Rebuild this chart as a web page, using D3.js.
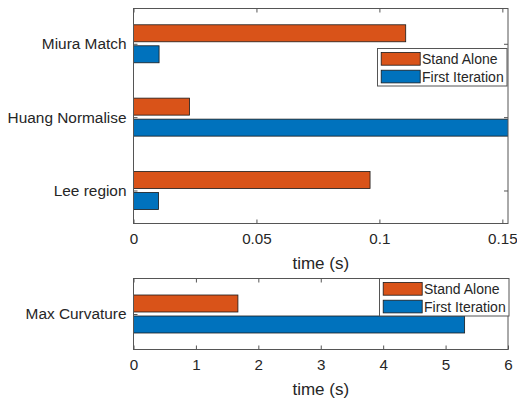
<!DOCTYPE html>
<html>
<head>
<meta charset="utf-8">
<script src="https://cdn.jsdelivr.net/npm/d3@7"></script>
<style>
  body { margin: 0; background: #fff; }
  svg text { font-family: "Liberation Sans", Arial, sans-serif; fill: #262626; }
</style>
</head>
<body>
<div id="chart"></div>
<script>
// data
var topCategories = ["Lee region", "Huang Normalise", "Miura Match"];
var topStandAlone = [0.0962, 0.0228, 0.1107];
var topFirstIter = [0.0102, 0.16, 0.0104];
var topTicks = [0, 0.05, 0.1, 0.15];
var topTickLabels = ["0", "0.05", "0.1", "0.15"];

var botCategories = ["Max Curvature"];
var botStandAlone = [1.673];
var botFirstIter = [5.305];
var botTicks = [0, 1, 2, 3, 4, 5, 6];
var botTickLabels = ["0", "1", "2", "3", "4", "5", "6"];

var seriesNames = ["Stand Alone", "First Iteration"];
var seriesColors = ["#D95319", "#0072BD"];

var W = 517, H = 400;
var axisColor = "#555";

var svg = d3.select("#chart").append("svg")
    .attr("width", W).attr("height", H);

function drawPanel(opt) {
    var g = svg.append("g");
    var x = d3.scaleLinear().domain(opt.xDomain).range([opt.left, opt.right]);
    var y = d3.scaleLinear().domain(opt.yDomain).range([opt.bottom, opt.top]);

    var clipId = "clip" + opt.id;
    svg.append("clipPath").attr("id", clipId)
        .append("rect")
        .attr("x", opt.left).attr("y", opt.top)
        .attr("width", opt.right - opt.left).attr("height", opt.bottom - opt.top);

    // bars: stand alone above, first iteration below the category tick
    var rows = opt.categories.map((c, i) => ({
        pos: i + 1, vals: [opt.standAlone[i], opt.firstIter[i]]
    }));
    var barH = 17, off = 10.5;
    var bars = g.append("g").attr("clip-path", "url(#" + clipId + ")");
    rows.forEach(r => {
        r.vals.forEach((v, s) => {
            var cy = y(r.pos) + (s === 0 ? -off : off);
            bars.append("rect")
                .attr("x", x(0))
                .attr("y", cy - barH / 2)
                .attr("width", x(v) - x(0))
                .attr("height", barH)
                .attr("fill", seriesColors[s])
                .attr("stroke", "#1a1a1a")
                .attr("stroke-width", 0.8);
        });
    });

    // axes, ticks pointing inwards on all four sides
    var tickLen = 4;
    var xb = g.append("g").attr("transform", "translate(0," + opt.bottom + ")")
        .call(d3.axisBottom(x).tickValues(opt.ticks)
            .tickFormat((d, i) => opt.tickLabels[i])
            .tickSizeInner(-tickLen).tickSizeOuter(0).tickPadding(10));
    var xt = g.append("g").attr("transform", "translate(0," + opt.top + ")")
        .call(d3.axisTop(x).tickValues(opt.ticks).tickFormat("")
            .tickSizeInner(-tickLen).tickSizeOuter(0));
    var yl = g.append("g").attr("transform", "translate(" + opt.left + ",0)")
        .call(d3.axisLeft(y).tickValues(rows.map(r => r.pos))
            .tickFormat((d, i) => opt.categories[i])
            .tickSizeInner(-tickLen).tickSizeOuter(0).tickPadding(7));
    var yr = g.append("g").attr("transform", "translate(" + opt.right + ",0)")
        .call(d3.axisRight(y).tickValues(rows.map(r => r.pos)).tickFormat("")
            .tickSizeInner(-tickLen).tickSizeOuter(0));

    [xb, xt, yl, yr].forEach(a => {
        a.select(".domain").remove();
        a.selectAll(".tick line").attr("stroke", axisColor);
        a.selectAll("text").attr("fill", "#262626");
    });
    xb.selectAll("text").attr("font-size", 15.2);
    yl.selectAll("text").attr("font-size", 15.4);

    // frame
    g.append("rect")
        .attr("x", opt.left).attr("y", opt.top)
        .attr("width", opt.right - opt.left).attr("height", opt.bottom - opt.top)
        .attr("fill", "none").attr("stroke", axisColor).attr("stroke-width", 1);

    // x label
    g.append("text")
        .attr("x", (opt.left + opt.right) / 2)
        .attr("y", opt.bottom + 45)
        .attr("text-anchor", "middle")
        .attr("font-size", 17)
        .text("time (s)");

    // legend
    var lg = g.append("g").attr("transform", "translate(" + opt.legX + "," + opt.legY + ")");
    lg.append("rect").attr("width", 129.5).attr("height", 37.5)
        .attr("fill", "#fff").attr("stroke", axisColor).attr("stroke-width", 1);
    seriesNames.forEach((n, i) => {
        lg.append("rect")
            .attr("x", 3.7).attr("y", 4 + i * 17.7)
            .attr("width", 39).attr("height", 12.7)
            .attr("fill", seriesColors[i])
            .attr("stroke", "#1a1a1a").attr("stroke-width", 0.8);
        lg.append("text")
            .attr("x", 44.5).attr("y", 10.5 + i * 17.7)
            .attr("dy", "0.35em")
            .attr("font-size", 14)
            .text(n);
    });
}

drawPanel({
    id: 1, categories: topCategories, standAlone: topStandAlone, firstIter: topFirstIter,
    ticks: topTicks, tickLabels: topTickLabels,
    xDomain: [0, 0.1523], yDomain: [0.55, 3.481],
    left: 133.5, right: 508, top: 8.5, bottom: 223.5,
    legX: 377.5, legY: 48.5
});

drawPanel({
    id: 2, categories: botCategories, standAlone: botStandAlone, firstIter: botFirstIter,
    ticks: botTicks, tickLabels: botTickLabels,
    xDomain: [0, 6], yDomain: [0.5, 1.5],
    left: 133.5, right: 508, top: 278.5, bottom: 349.5,
    legX: 379.5, legY: 278.5
});
</script>
</body>
</html>
